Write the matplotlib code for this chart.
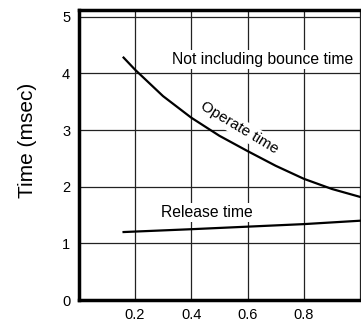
import matplotlib
matplotlib.use("Agg")
import matplotlib.pyplot as plt

plt.rcParams['font.family'] = ['Liberation Sans', 'DejaVu Sans']

# Data
operate_x = [0.16, 0.2, 0.3, 0.4, 0.5, 0.6, 0.7, 0.8, 0.9, 1.0]
operate_y = [4.28, 4.07, 3.60, 3.22, 2.90, 2.63, 2.37, 2.14, 1.96, 1.82]
release_x = [0.16, 0.4, 0.6, 0.8, 1.0]
release_y = [1.20, 1.25, 1.295, 1.34, 1.40]
xticks = [0.2, 0.4, 0.6, 0.8]
yticks = [0, 1, 2, 3, 4, 5]

fig = plt.figure(figsize=(3.61, 3.29), dpi=100)
ax = fig.add_axes([0.2175, 0.0881, 0.7825, 0.8815])

# grid
for x in [0.2, 0.4, 0.6, 0.8, 1.0]:
    ax.axvline(x, color='#222222', lw=0.9, zorder=1)
for y in [1, 2, 3, 4, 5]:
    ax.axhline(y, color='#222222', lw=0.9, zorder=1)

ax.plot(operate_x, operate_y, color='black', lw=1.6, zorder=3)
ax.plot(release_x, release_y, color='black', lw=1.6, zorder=3)

box = dict(facecolor='white', edgecolor='none', pad=1.5)
ax.text(0.653, 4.24, 'Not including bounce time', ha='center', va='center',
        fontsize=11.3, bbox=box, zorder=2)
ax.text(0.572, 3.04, 'Operate time', ha='center', va='center', rotation=-31,
        fontsize=11, bbox=box, zorder=2)
ax.text(0.455, 1.54, 'Release time', ha='center', va='center',
        fontsize=11.3, bbox=box, zorder=2)

ax.set_xlim(0, 1.003)
ax.set_ylim(0, 5.12)
ax.set_xticks(xticks)
ax.set_xticklabels(['0.2', '0.4', '0.6', '0.8'])
ax.set_yticks(yticks)
ax.tick_params(length=0, labelsize=10.5, pad=6)
ax.set_ylabel('Time (msec)', fontsize=15)
ax.yaxis.set_label_coords(-0.147, 0.552)

for s in ['left', 'bottom', 'top']:
    ax.spines[s].set_linewidth(2.5)
ax.spines['right'].set_visible(False)

fig.savefig('out.png', dpi=100)
